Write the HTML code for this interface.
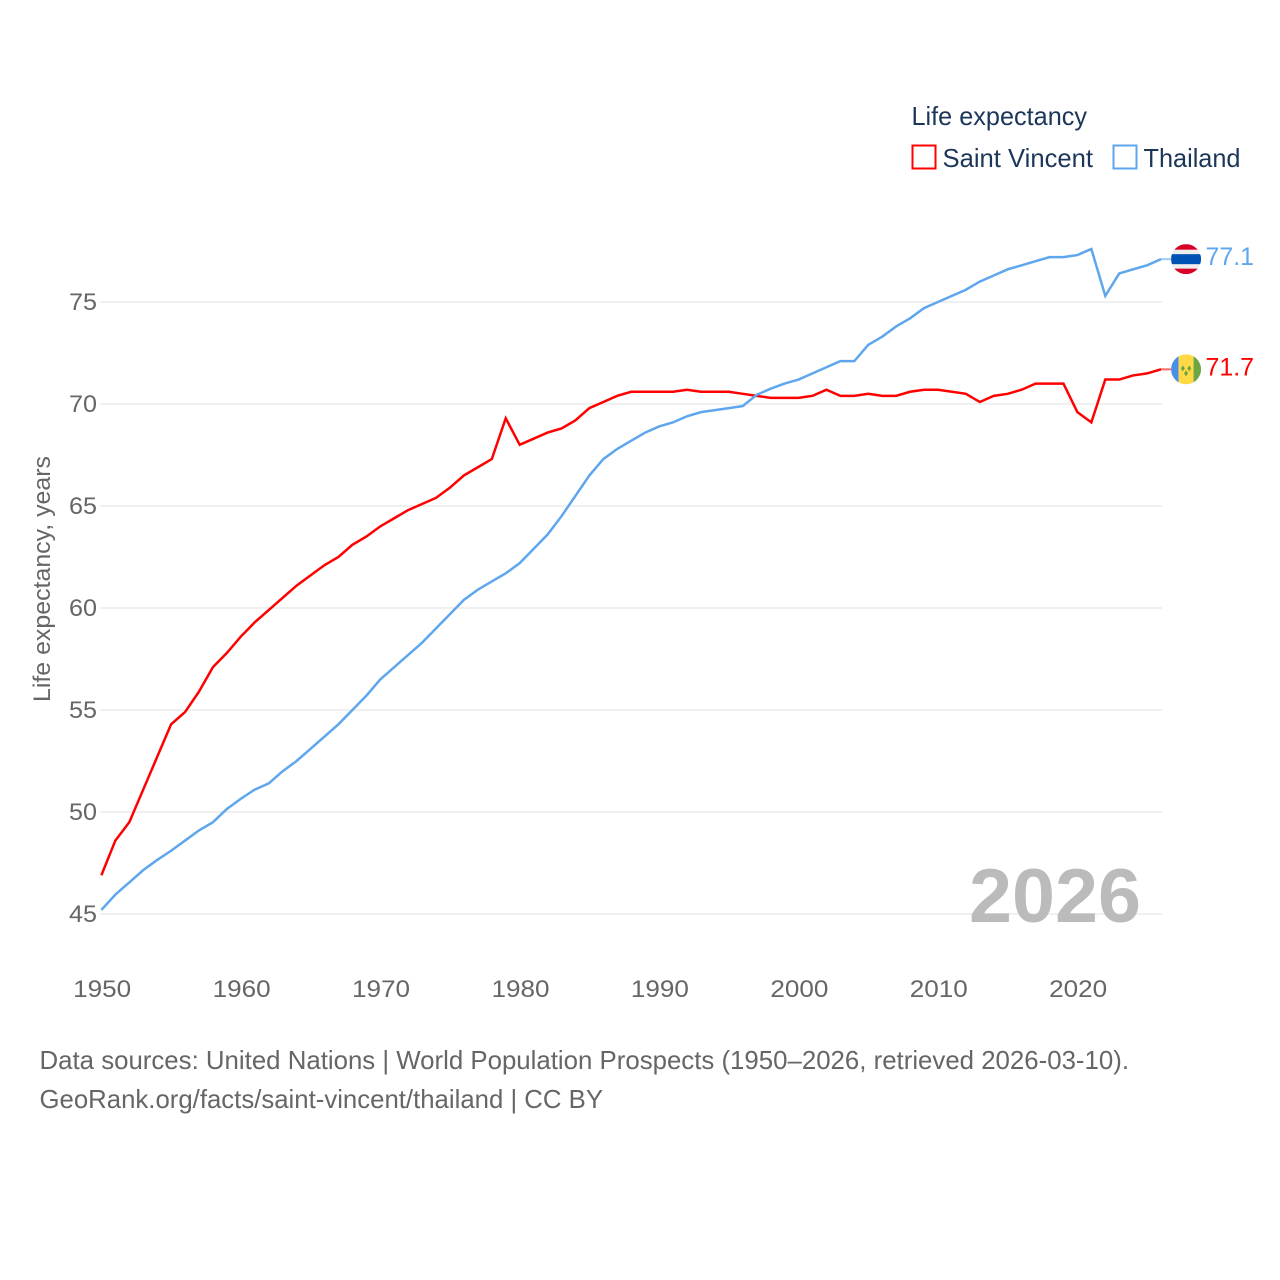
<!DOCTYPE html>
<html lang="en">
<head>
<meta charset="utf-8">
<title>Life expectancy: Saint Vincent and Thailand</title>
<style>
html,body{margin:0;padding:0;background:#fff;}
svg{display:block;}
text{font-family:"Liberation Sans",sans-serif;}
</style>
</head>
<body>
<svg id="chart" xmlns="http://www.w3.org/2000/svg" width="1280" height="1280" viewBox="0 0 1280 1280">
  <rect x="0" y="0" width="1280" height="1280" fill="#fff"/>
  <defs>
    <clipPath id="flag-clip"><circle cx="0" cy="0" r="15"/></clipPath>
  </defs>
  <g id="grid"></g>
  <g id="y-ticks"></g>
  <g id="x-ticks"></g>
  <text transform="translate(50,579) rotate(-90)" text-anchor="middle" font-size="24" fill="#666" textLength="246" lengthAdjust="spacingAndGlyphs">Life expectancy, years</text>
  <text x="969" y="922" font-size="76" font-weight="bold" fill="#bbb" textLength="172" lengthAdjust="spacingAndGlyphs">2026</text>
  <g id="series"></g>

  <g>
    <text x="911.5" y="125" font-size="26" fill="#1c3659" textLength="175.5" lengthAdjust="spacingAndGlyphs">Life expectancy</text>
    <g>
      <rect x="912.5" y="145.5" width="23" height="23" fill="#fff" stroke="#ff0000" stroke-width="2"/>
      <text x="942.5" y="167" font-size="26" fill="#1c3659" textLength="150.5" lengthAdjust="spacingAndGlyphs">Saint Vincent</text>
    </g>
    <g>
      <rect x="1113.5" y="145.5" width="23" height="23" fill="#fff" stroke="#5ea6ed" stroke-width="2"/>
      <text x="1143.5" y="167" font-size="26" fill="#1c3659" textLength="97" lengthAdjust="spacingAndGlyphs">Thailand</text>
    </g>
  </g>

  <g id="flag-thailand">
    <g clip-path="url(#flag-clip)">
      <rect x="-15" y="-15" width="30" height="30" fill="#eeeeee"/>
      <rect x="-15" y="-15" width="30" height="5.5" fill="#d80027"/>
      <rect x="-15" y="-5" width="30" height="10" fill="#0052b4"/>
      <rect x="-15" y="9.5" width="30" height="5.5" fill="#d80027"/>
    </g>
  </g>
  <g id="flag-saint-vincent">
    <g clip-path="url(#flag-clip)">
      <rect x="-15" y="-15" width="7.5" height="30" fill="#4a8fe7"/>
      <rect x="-7.5" y="-15" width="15" height="30" fill="#ffda44"/>
      <rect x="7.5" y="-15" width="7.5" height="30" fill="#6da544"/>
      <polygon points="-3.2,-4 -1.2,-1 -3.2,2 -5.2,-1" fill="#6da544"/>
      <polygon points="3.2,-4 5.2,-1 3.2,2 1.2,-1" fill="#6da544"/>
      <polygon points="0,1 2,4 0,7 -2,4" fill="#6da544"/>
    </g>
  </g>
  <g id="end-labels"></g>

  <g>
    <text x="39.5" y="1069" font-size="26" fill="#666" textLength="1089.5" lengthAdjust="spacingAndGlyphs">Data sources: United Nations | World Population Prospects (1950–2026, retrieved 2026-03-10).</text>
    <text x="39.5" y="1108" font-size="26" fill="#666" textLength="563.5" lengthAdjust="spacingAndGlyphs">GeoRank.org/facts/saint-vincent/thailand | CC BY</text>
  </g>
</svg>
<script>
const years = [1950,1951,1952,1953,1954,1955,1956,1957,1958,1959,1960,1961,1962,1963,1964,1965,1966,1967,1968,1969,1970,1971,1972,1973,1974,1975,1976,1977,1978,1979,1980,1981,1982,1983,1984,1985,1986,1987,1988,1989,1990,1991,1992,1993,1994,1995,1996,1997,1998,1999,2000,2001,2002,2003,2004,2005,2006,2007,2008,2009,2010,2011,2012,2013,2014,2015,2016,2017,2018,2019,2020,2021,2022,2023,2024,2025,2026];
const saintVincent = [46.9,48.6,49.5,51.1,52.7,54.3,54.9,55.9,57.1,57.8,58.6,59.3,59.9,60.5,61.1,61.6,62.1,62.5,63.1,63.5,64.0,64.4,64.8,65.1,65.4,65.9,66.5,66.9,67.3,69.3,68.0,68.3,68.6,68.8,69.2,69.8,70.1,70.4,70.6,70.6,70.6,70.6,70.7,70.6,70.6,70.6,70.5,70.4,70.3,70.3,70.3,70.4,70.7,70.4,70.4,70.5,70.4,70.4,70.6,70.7,70.7,70.6,70.5,70.1,70.4,70.5,70.7,71.0,71.0,71.0,69.6,69.1,71.2,71.2,71.4,71.5,71.7];
const thailand = [45.2,45.95,46.55,47.15,47.65,48.1,48.6,49.1,49.5,50.15,50.65,51.1,51.4,52.0,52.5,53.1,53.7,54.3,55.0,55.7,56.5,57.1,57.7,58.3,59.0,59.7,60.4,60.9,61.3,61.7,62.2,62.9,63.6,64.5,65.5,66.5,67.3,67.8,68.2,68.6,68.9,69.1,69.4,69.6,69.7,69.8,69.9,70.45,70.75,71.0,71.2,71.5,71.8,72.1,72.1,72.9,73.3,73.8,74.2,74.7,75.0,75.3,75.6,76.0,76.3,76.6,76.8,77.0,77.2,77.2,77.3,77.6,75.3,76.4,76.6,76.8,77.1];
const yTickValues = [45,50,55,60,65,70,75];
const xTickValues = [1950,1960,1970,1980,1990,2000,2010,2020];

const SVG_NS = 'http://www.w3.org/2000/svg';
const RED = '#ff0000';
const BLUE = '#5ea6ed';

function xScale(year) {
  return 101.4 + (year - 1950) * (976 / 70);
}
function yScale(value) {
  return 914 - (value - 45) * 20.4;
}
function addText(parent, name, content, x, y, size, fill, anchor, width) {
  const el = document.createElementNS(SVG_NS, 'text');
  
  
  el.setAttribute('x', x);
  el.setAttribute('y', y);
  el.setAttribute('font-size', size);
  el.setAttribute('fill', fill);
  el.setAttribute('text-anchor', anchor);
  el.setAttribute('textLength', width);
  el.setAttribute('lengthAdjust', 'spacingAndGlyphs');
  el.textContent = content;
  parent.appendChild(el);
  return el;
}

const gridGroup = document.getElementById('grid');
const yTickGroup = document.getElementById('y-ticks');
const xTickGroup = document.getElementById('x-ticks');
const seriesGroup = document.getElementById('series');
const labelGroup = document.getElementById('end-labels');

yTickValues.forEach(function (v) {
  const line = document.createElementNS(SVG_NS, 'line');
  
  
  line.setAttribute('x1', 100);
  line.setAttribute('x2', 1162);
  line.setAttribute('y1', yScale(v));
  line.setAttribute('y2', yScale(v));
  line.setAttribute('stroke', '#e8e8e8');
  line.setAttribute('stroke-width', 1.2);
  gridGroup.appendChild(line);
  addText(yTickGroup, 'y-tick-' + v, String(v), 97, yScale(v) + 8, 24, '#666', 'end', 28);
});

xTickValues.forEach(function (v) {
  addText(xTickGroup, 'x-tick-' + v, String(v), xScale(v) + 0.8, 997, 24, '#666', 'middle', 58);
});

function drawSeries(name, values, color) {
  const path = document.createElementNS(SVG_NS, 'path');
  const d = values.map(function (v, i) {
    return (i === 0 ? 'M' : 'L') + xScale(years[i]).toFixed(2) + ' ' + yScale(v).toFixed(2);
  }).join(' ');
  
  
  path.setAttribute('d', d);
  path.setAttribute('fill', 'none');
  path.setAttribute('stroke', color);
  path.setAttribute('stroke-width', 2.5);
  path.setAttribute('stroke-linejoin', 'miter');
  seriesGroup.appendChild(path);

  const lastValue = values[values.length - 1];
  const lastX = xScale(years[years.length - 1]);
  const lastY = yScale(lastValue);

  const connector = document.createElementNS(SVG_NS, 'line');
  
  
  connector.setAttribute('x1', lastX);
  connector.setAttribute('x2', lastX + 10);
  connector.setAttribute('y1', lastY);
  connector.setAttribute('y2', lastY);
  connector.setAttribute('stroke', color);
  connector.setAttribute('stroke-opacity', 0.6);
  connector.setAttribute('stroke-width', 2);
  seriesGroup.appendChild(connector);

  document.getElementById('flag-' + name).setAttribute('transform', 'translate(' + (lastX + 25) + ',' + lastY + ')');
  addText(labelGroup, 'end-value-' + name, lastValue.toFixed(1), lastX + 44.5, lastY + 6, 25, color, 'start', 48.5);
}

drawSeries('saint-vincent', saintVincent, RED);
drawSeries('thailand', thailand, BLUE);
</script>
</body>
</html>
